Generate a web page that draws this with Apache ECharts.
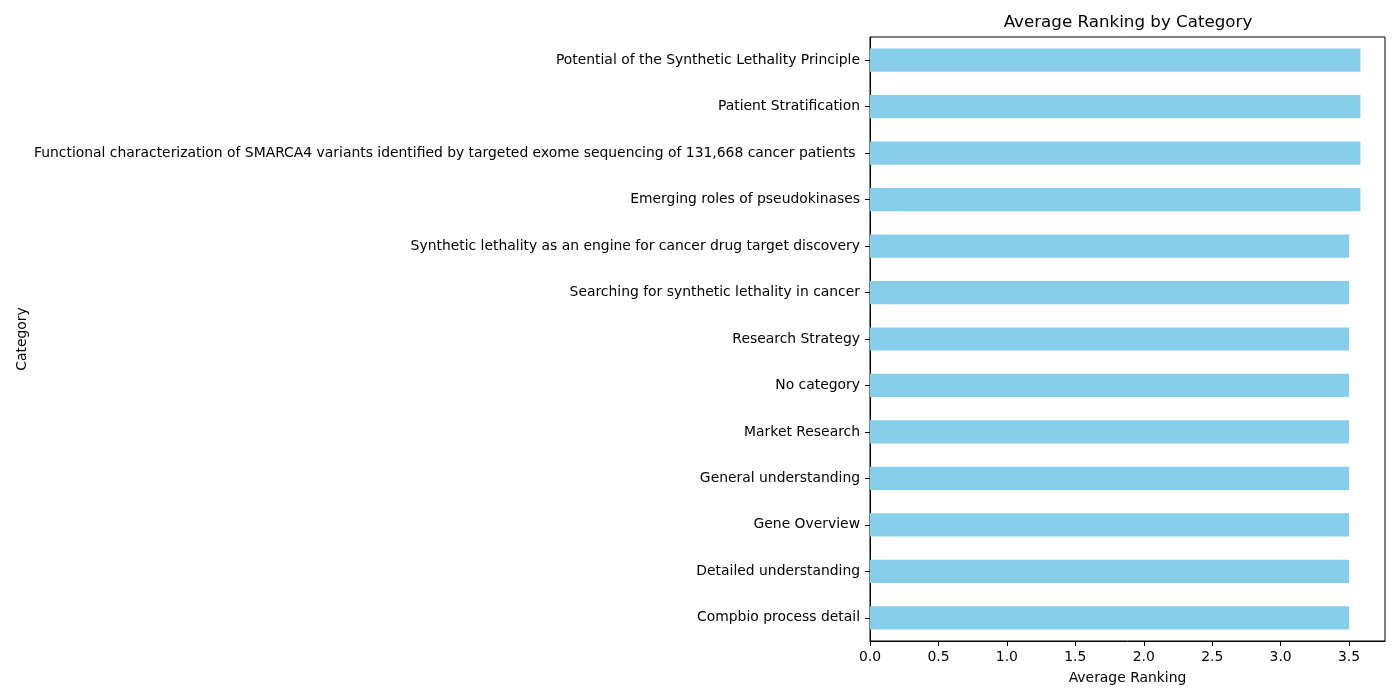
<!DOCTYPE html>
<html>
<head>
<meta charset="utf-8">
<script src="https://cdn.jsdelivr.net/npm/echarts@6/dist/echarts.min.js"></script>
<style>
  html, body { margin: 0; padding: 0; background: #fff; }
  #chart { width: 1400px; height: 700px; }
</style>
</head>
<body>
<div id="chart"></div>
<script>
// categories, bottom to top (as drawn on the y axis)
const categories = [
  "Compbio process detail",
  "Detailed understanding",
  "Gene Overview",
  "General understanding",
  "Market Research",
  "No category",
  "Research Strategy",
  "Searching for synthetic lethality in cancer",
  "Synthetic lethality as an engine for cancer drug target discovery",
  "Emerging roles of pseudokinases",
  "Functional characterization of SMARCA4 variants identified by targeted exome sequencing of 131,668 cancer patients ",
  "Patient Stratification",
  "Potential of the Synthetic Lethality Principle"
]
const avgRanking = [3.5, 3.5, 3.5, 3.5, 3.5, 3.5, 3.5, 3.5, 3.5, 3.583, 3.583, 3.583, 3.583]

const chart = echarts.init(document.getElementById("chart"))
const font = "DejaVu Sans"

const option = {
  animation: false,
  title: {
    text: "Average Ranking by Category",
    left: 1123,
    top: 9,
    textAlign: "center",
    textStyle: { fontFamily: font, fontSize: 16.7, fontWeight: "normal", color: "#000" }
  },
  grid: {
    left: 870,
    right: 15,
    top: 37,
    bottom: 59,
    show: true,
    borderColor: "#000",
    borderWidth: 1
  },
  xAxis: {
    type: "value",
    min: 0,
    max: 3.7625,
    interval: 0.5,
    name: "Average Ranking",
    nameLocation: "middle",
    nameGap: 30,
    nameTextStyle: { fontFamily: font, fontSize: 13.9, color: "#000" },
    splitLine: { show: false },
    axisLine: { show: true, lineStyle: { color: "#000" } },
    axisTick: { show: true, length: 5, lineStyle: { color: "#000" } },
    axisLabel: {
      showMaxLabel: false,
      margin: 9,
      fontFamily: font,
      fontSize: 13.9,
      color: "#000",
      formatter: (v) => v.toFixed(1)
    }
  },
  yAxis: {
    type: "category",
    data: categories,
    name: "Category",
    nameLocation: "middle",
    nameGap: 841,
    nameTextStyle: { fontFamily: font, fontSize: 13.9, color: "#000" },
    axisLine: { show: true, lineStyle: { color: "#000" } },
    axisTick: { show: true, alignWithLabel: true, length: 5, lineStyle: { color: "#000" } },
    axisLabel: { margin: 10, fontFamily: font, fontSize: 13.9, color: "#000", interval: 0 }
  },
  series: [
    {
      type: "bar",
      data: avgRanking,
      barWidth: "50%",
      itemStyle: { color: "#87CEEB" }
    }
  ]
}

chart.setOption(option)
</script>
</body>
</html>
